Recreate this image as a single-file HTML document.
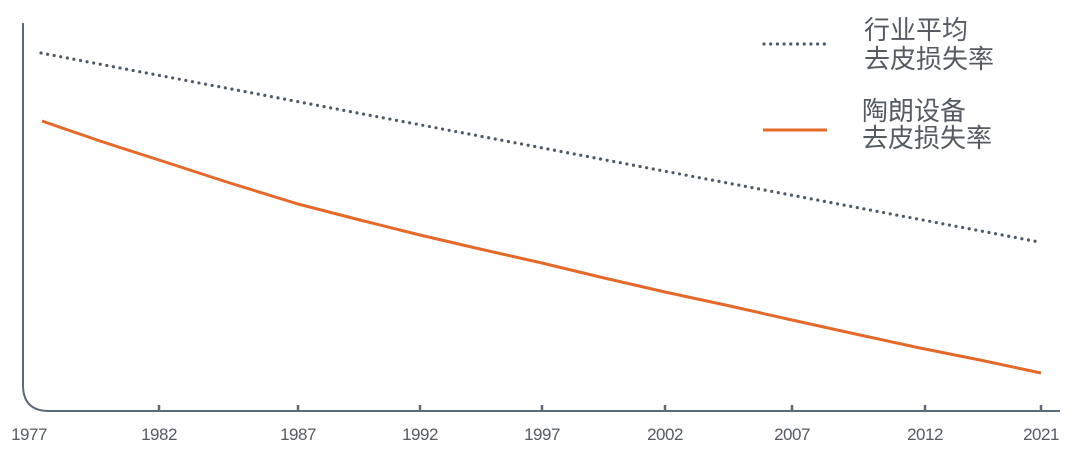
<!DOCTYPE html>
<html><head><meta charset="utf-8"><style>
html,body{margin:0;padding:0;background:#fff;}
svg{display:block;}
text{font-family:"Liberation Sans","Noto Sans CJK SC",sans-serif;fill:#555b60;}
</style></head><body>
<svg width="1080" height="459" viewBox="0 0 1080 459">
<path d="M23,23 V385 Q23,411 49,411 H1060" fill="none" stroke="#5d6b78" stroke-width="2"/>
<g stroke="#5d6b78" stroke-width="2.5">
<line x1="159" y1="411" x2="159" y2="405"/>
<line x1="298" y1="411" x2="298" y2="405"/>
<line x1="420" y1="411" x2="420" y2="405"/>
<line x1="542" y1="411" x2="542" y2="405"/>
<line x1="665" y1="411" x2="665" y2="405"/>
<line x1="792" y1="411" x2="792" y2="405"/>
<line x1="925" y1="411" x2="925" y2="405"/>
<line x1="1041" y1="411" x2="1041" y2="405"/>
</g>
<g font-size="17" text-anchor="middle" letter-spacing="-0.5">
<text x="29" y="440">1977</text>
<text x="159" y="440">1982</text>
<text x="298" y="440">1987</text>
<text x="420" y="440">1992</text>
<text x="542" y="440">1997</text>
<text x="665" y="440">2002</text>
<text x="792" y="440">2007</text>
<text x="925" y="440">2012</text>
<text x="1041" y="440">2021</text>
</g>
<line x1="41" y1="53" x2="1039" y2="242" stroke="#4f5a66" stroke-width="3.2" stroke-dasharray="0 6.7" stroke-linecap="round"/>
<path d="M42,121 L100,141 L159,160 L230,183 L298,204 L360,220 L420,235 L480,249 L542,263 L600,277 L665,292 L730,306 L792,320 L860,335 L920,348 L980,360 L1041,373" fill="none" stroke="#e36a2b" stroke-width="3" stroke-linejoin="round"/>
<line x1="764" y1="44" x2="827" y2="44" stroke="#4f5a66" stroke-width="3.2" stroke-dasharray="0 6.7" stroke-linecap="round"/>
<line x1="763" y1="130" x2="827" y2="130" stroke="#e36a2b" stroke-width="3"/>
<g font-size="26">
<text x="864" y="39">行业平均</text>
<text x="864" y="68">去皮损失率</text>
<text x="862" y="120">陶朗设备</text>
<text x="862" y="147">去皮损失率</text>
</g>
</svg>
</body></html>
